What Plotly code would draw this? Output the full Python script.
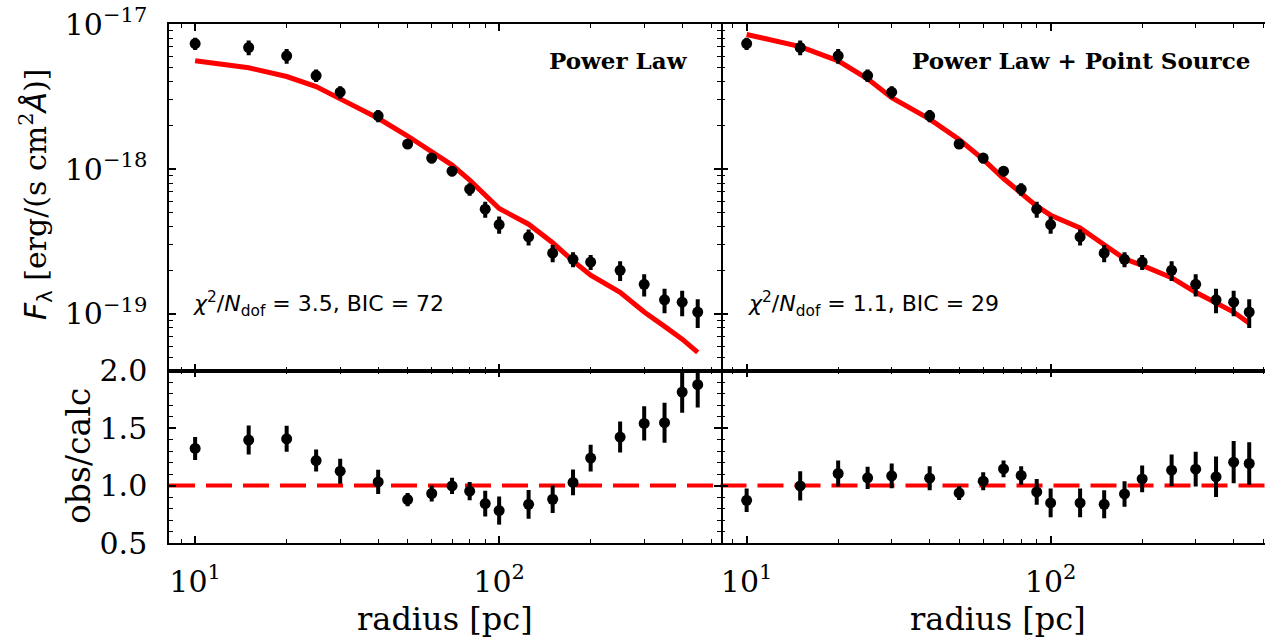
import plotly.graph_objects as go

# ---------------- data ----------------
radius = [10, 15, 20, 25, 30, 40, 50, 60, 70, 80, 90, 100, 125, 150, 175, 200, 250, 300, 350, 400, 450]

flux = [7.35e-18, 6.9e-18, 6.04e-18, 4.42e-18, 3.39e-18, 2.33e-18, 1.486e-18, 1.19e-18, 9.66e-19,
        7.26e-19, 5.28e-19, 4.14e-19, 3.40e-19, 2.63e-19, 2.38e-19, 2.28e-19, 2.0e-19, 1.60e-19,
        1.25e-19, 1.205e-19, 1.03e-19]
flux_err = [0.71e-18, 0.81e-18, 0.71e-18, 0.44e-18, 0.34e-18, 0.23e-18, 0.11e-18, 0.099e-18, 0.75e-19,
            0.73e-19, 0.67e-19, 0.56e-19, 0.43e-19, 0.36e-19, 0.28e-19, 0.27e-19, 0.31e-19, 0.28e-19,
            0.24e-19, 0.24e-19, 0.23e-19]

model_pl = [5.58e-18, 5.0e-18, 4.35e-18, 3.71e-18, 3.05e-18, 2.24e-18, 1.69e-18, 1.316e-18, 1.064e-18,
            8.38e-19, 6.6e-19, 5.34e-19, 4.16e-19, 3.1e-19, 2.32e-19, 1.85e-19, 1.41e-19, 1.03e-19,
            8.2e-20, 6.7e-20, 5.43e-20]
model_plps = [8.49e-18, 7.0e-18, 5.58e-18, 4.19e-18, 3.11e-18, 2.21e-18, 1.60e-18, 1.166e-18, 8.6e-19,
              6.78e-19, 5.54e-19, 4.8e-19, 3.92e-19, 3.0e-19, 2.40e-19, 2.16e-19, 1.78e-19, 1.41e-19,
              1.205e-19, 1.03e-19, 8.63e-20]

ratio_pl = [1.323, 1.396, 1.407, 1.218, 1.125, 1.032, 0.878, 0.931, 0.997, 0.951, 0.843, 0.782, 0.837,
            0.881, 1.027, 1.239, 1.422, 1.541, 1.547, 1.814, 1.878]
ratio_pl_err = [0.10, 0.126, 0.113, 0.096, 0.109, 0.105, 0.058, 0.07, 0.07, 0.079, 0.112, 0.122, 0.125,
                0.119, 0.112, 0.116, 0.135, 0.149, 0.174, 0.179, 0.198]
ratio_plps = [0.872, 0.997, 1.105, 1.067, 1.085, 1.064, 0.936, 1.038, 1.145, 1.088, 0.945, 0.849, 0.849,
              0.837, 0.927, 1.058, 1.134, 1.143, 1.076, 1.204, 1.192]
ratio_plps_err = [0.102, 0.128, 0.113, 0.096, 0.108, 0.105, 0.061, 0.078, 0.073, 0.081, 0.113, 0.125, 0.125,
                  0.122, 0.111, 0.116, 0.137, 0.151, 0.176, 0.183, 0.185]

flux_ticks = [1e-19, 1e-18, 1e-17]
flux_ticktext = ["10<sup>\u221219</sup>", "10<sup>\u221218</sup>", "10<sup>\u221217</sup>"]
radius_ticks = [10, 100]
radius_ticktext = ["10<sup>1</sup>", "10<sup>2</sup>"]
ratio_ticks = [0.5, 1.0, 1.5, 2.0]
ratio_ticktext = ["0.5", "1.0", "1.5", "2.0"]

panel_titles = ["Power Law", "Power Law + Point Source"]
fit_stats = ["<i>\u03c7</i><sup>2</sup>/<i>N</i><sub>dof</sub> = 3.5, BIC = 72",
             "<i>\u03c7</i><sup>2</sup>/<i>N</i><sub>dof</sub> = 1.1, BIC = 29"]

# ---------------- layout geometry ----------------
W, H = 1265, 639
ML, MR, MT, MB = 169, 0, 24, 96
PW, PH = W - ML - MR, H - MT - MB

def px_x(p):
    return (p - ML) / PW

def px_y(p):
    return (H - MB - p) / PH

split = px_x(720.5)
row_split = px_y(370.7)

SERIF = "DejaVu Serif"
SANS = "DejaVu Sans"

fig = go.Figure()

marker = dict(color="black", size=11)
err_style = dict(type="data", color="black", thickness=4, width=0, visible=True)

# top panels
for xa, ya, model in [("x", "y", model_pl), ("x2", "y2", model_plps)]:
    fig.add_trace(go.Scatter(x=radius, y=model, mode="lines", line=dict(color="red", width=5),
                             xaxis=xa, yaxis=ya, showlegend=False, hoverinfo="skip"))
    fig.add_trace(go.Scatter(x=radius, y=flux, mode="markers", marker=marker,
                             error_y=dict(array=flux_err, **err_style),
                             xaxis=xa, yaxis=ya, showlegend=False))

# bottom panels
for xa, ya, r, re in [("x3", "y3", ratio_pl, ratio_pl_err), ("x4", "y4", ratio_plps, ratio_plps_err)]:
    fig.add_trace(go.Scatter(x=radius, y=r, mode="markers", marker=marker,
                             error_y=dict(array=re, **err_style),
                             xaxis=xa, yaxis=ya, showlegend=False, cliponaxis=True))

tickfont = dict(family=SERIF, size=30, color="black")
base = dict(showgrid=False, zeroline=False, linecolor="black", linewidth=1.5,
            ticks="inside", ticklen=7, tickwidth=1.5, tickcolor="black", tickfont=tickfont)

minor_log = dict(ticks="inside", ticklen=4, tickwidth=1, tickcolor="black", dtick="D1", showgrid=False)
minor_lin = dict(ticks="inside", ticklen=4, tickwidth=1, tickcolor="black", dtick=0.1, showgrid=False)

DEC = 304.0  # pixels per decade
x0_log = 0.914
xr_left = [x0_log, x0_log + (720.5 - 169) / DEC]
xr_right = [x0_log, x0_log + (1265 - 720.5) / DEC]
yr_top = [-19.392, -16.999]
yr_bot = [0.5, 2.0]

def xax(domain, rng, anchor, labels):
    d = dict(base, type="log", domain=domain, range=rng, anchor=anchor, showline=True, mirror="allticks",
             tickmode="array", tickvals=radius_ticks, ticktext=radius_ticktext,
             showticklabels=labels, minor=minor_log, ticklabelstandoff=11)
    return d

fig.update_layout(
    xaxis=xax([0, split], xr_left, "y", False),
    xaxis2=xax([split, 1], xr_right, "y2", False),
    xaxis3=xax([0, split], xr_left, "y3", True),
    xaxis4=xax([split, 1], xr_right, "y4", True),
    yaxis=dict(base, type="log", domain=[row_split, 1], range=yr_top, anchor="x", showline=True,
               mirror="allticks", tickmode="array", tickvals=flux_ticks, ticktext=flux_ticktext,
               minor=minor_log, ticklabelstandoff=14),
    yaxis2=dict(base, type="log", domain=[row_split, 1], range=yr_top, anchor="x2", showline=False,
                mirror=False, tickmode="array", tickvals=flux_ticks, ticktext=flux_ticktext,
                showticklabels=False, minor=minor_log),
    yaxis3=dict(base, domain=[0, row_split], range=yr_bot, anchor="x3", showline=True, mirror="allticks",
                tickmode="array", tickvals=ratio_ticks, ticktext=ratio_ticktext, minor=minor_lin,
                ticklabelstandoff=14),
    yaxis4=dict(base, domain=[0, row_split], range=yr_bot, anchor="x4", showline=False, mirror=False,
                tickmode="array", tickvals=ratio_ticks, ticktext=ratio_ticktext, showticklabels=False,
                minor=minor_lin),
    width=W, height=H,
    margin=dict(l=ML, r=MR, t=MT, b=MB, pad=0),
    plot_bgcolor="white", paper_bgcolor="white",
    showlegend=False,
)

# dashed unity lines
for xa, ya in [("x3", "y3"), ("x4", "y4")]:
    fig.add_shape(type="line", xref=f"{xa} domain", yref=ya, x0=0, x1=1, y0=1.0, y1=1.0,
                  line=dict(color="red", width=4, dash="26px,11px"), layer="below")

ann = []
# panel titles
ann.append(dict(text="<b>" + panel_titles[0] + "</b>", x=px_x(690), y=px_y(61), xref="paper", yref="paper",
                xanchor="right", yanchor="middle", showarrow=False,
                font=dict(family=SERIF, size=23, color="black")))
ann.append(dict(text="<b>" + panel_titles[1] + "</b>", x=px_x(1252), y=px_y(61), xref="paper", yref="paper",
                xanchor="right", yanchor="middle", showarrow=False,
                font=dict(family=SERIF, size=23, color="black")))
# fit stats
ann.append(dict(text=fit_stats[0], x=px_x(191), y=px_y(304), xref="paper", yref="paper",
                xanchor="left", yanchor="middle", showarrow=False,
                font=dict(family=SANS, size=22, color="black")))
ann.append(dict(text=fit_stats[1], x=px_x(746), y=px_y(304), xref="paper", yref="paper",
                xanchor="left", yanchor="middle", showarrow=False,
                font=dict(family=SANS, size=22, color="black")))
# axis titles
ytitle = ('<span style="font-family:DejaVu Sans"><i>F</i><sub>\u03bb</sub></span> '
          '[erg/(s cm<sup>2</sup><span style="font-family:DejaVu Sans"><i>\u00c5</i></span>)]')
ann.append(dict(text=ytitle, x=px_x(35), y=px_y(194), xref="paper", yref="paper", textangle=-90,
                xanchor="center", yanchor="middle", showarrow=False,
                font=dict(family=SERIF, size=30, color="black")))
ann.append(dict(text="obs/calc", x=px_x(78), y=px_y(456), xref="paper", yref="paper", textangle=-90,
                xanchor="center", yanchor="middle", showarrow=False,
                font=dict(family=SERIF, size=33, color="black")))
for cx in [444.5, 998]:
    ann.append(dict(text="radius [pc]", x=px_x(cx), y=px_y(619), xref="paper", yref="paper",
                    xanchor="center", yanchor="middle", showarrow=False,
                    font=dict(family=SERIF, size=32, color="black")))
fig.update_layout(annotations=ann)

fig.write_html("out.html")
